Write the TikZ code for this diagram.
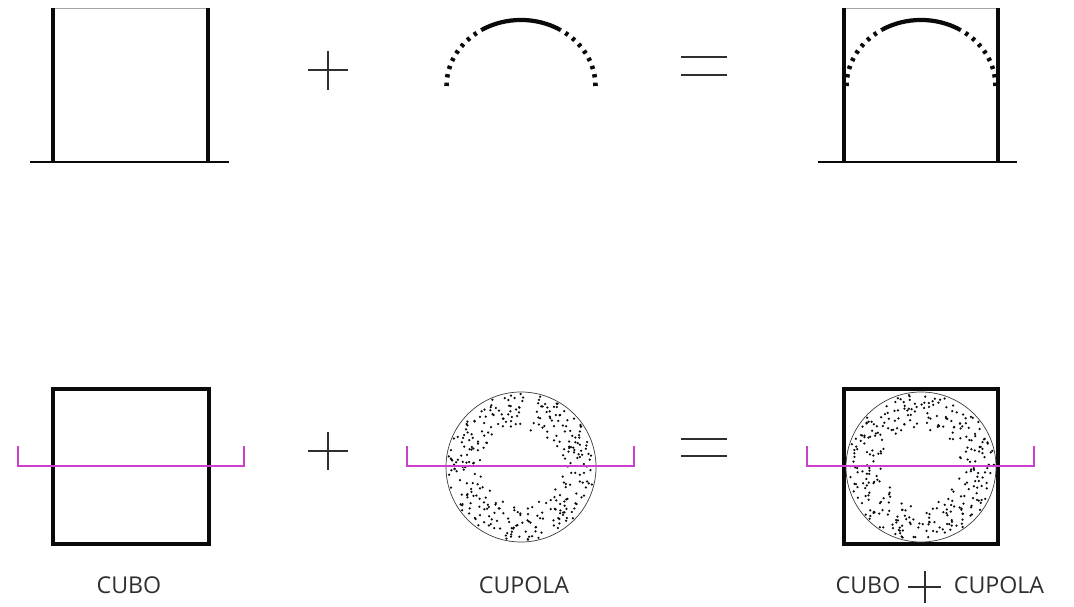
\documentclass[tikz,border=0pt]{standalone}
\usepackage{xcolor}
\usepackage{fontspec}
\setmainfont{Open Sans}
\usepackage{tikz}
\definecolor{cutpink}{HTML}{CC3FCC}
\definecolor{inkblack}{HTML}{0A0A0A}
\tikzset{
    wall/.style={inkblack, line width=2.3pt},
    ground/.style={inkblack, line width=1.2pt},
    thinedge/.style={gray!70, line width=0.5pt},
    signline/.style={inkblack!85, line width=0.7pt},
    cutline/.style={cutpink, line width=1.2pt},
    sphere/.style={inkblack!80, line width=0.4pt},
    brokenarc/.style={inkblack, line width=2.6pt, dash pattern=on 1.9pt off 3pt},
    solidarc/.style={inkblack, line width=2.4pt},
    caption/.style={inkblack!85, font=\fontsize{13.2pt}{15pt}\selectfont, inner sep=0pt},
}
% section of the dome: ends broken up, crown solid
\newcommand{\domearc}[1]{
    \draw[brokenarc] (#1-74.5,86) arc[start angle=180, end angle=238, x radius=74.5, y radius=66];
    \draw[solidarc] (#1-39.5,30) arc[start angle=238, end angle=302, x radius=74.5, y radius=66];
    \draw[brokenarc] (#1+74.5,86) arc[start angle=0, end angle=-58, x radius=74.5, y radius=66];
}
% stippled sphere, dots crowd towards the rim
\newcommand{\domeplan}[3]{
    \pgfmathsetseed{#3}
    \foreach \i in {1,...,320}{
        \pgfmathsetmacro{\ang}{360*frac(\i*0.381966)+#3+14*rand}
        \pgfmathsetmacro{\rad}{min(73,38+35*pow(\i/320,0.7)+2.5*rand)}
        \fill[inkblack] ({#1+\rad*cos(\ang)},{#2+\rad*sin(\ang)}) circle (1.25);
    }
    \draw[sphere] (#1,#2) circle (75);
}
\begin{document}
\begin{tikzpicture}[x=0.02cm, y=-0.02cm]
    \useasboundingbox (0,0) rectangle (1074,607);
    % top row
    \draw[thinedge] (53,8) -- (208,8);
    \draw[wall] (53,8) -- (53,162);
    \draw[wall] (208,8) -- (208,162);
    \draw[ground] (30,162) -- (229,162);
    \draw[signline] (308,70) -- (348,70);
    \draw[signline] (328,51) -- (328,90);
    \domearc{521}
    \draw[signline] (681,57) -- (727,57);
    \draw[signline] (681,75) -- (727,75);
    \draw[thinedge] (844,8) -- (998,8);
    \draw[wall] (844,8) -- (844,162);
    \draw[wall] (998,8) -- (998,162);
    \draw[ground] (818,162) -- (1017,162);
    \domearc{921}
    % bottom row
    \draw[wall] (53,389) rectangle (209,544);
    \draw[cutline] (18,446) -- (18,466) -- (244,466) -- (244,446);
    \draw[signline] (308,451) -- (348,451);
    \draw[signline] (328,432) -- (328,470);
    \domeplan{521}{467}{7}
    \draw[cutline] (407,446) -- (407,466) -- (634,466) -- (634,446);
    \draw[signline] (681,439) -- (727,439);
    \draw[signline] (681,456) -- (727,456);
    \draw[wall] (844,389) rectangle (998,544);
    \domeplan{921}{467}{23}
    \draw[cutline] (807,446) -- (807,466) -- (1034,466) -- (1034,446);
    % captions
    \node[caption] (cubo) at (129,585) {CUBO};
    \node[caption] (cupola) at (524,585) {CUPOLA};
    \node[caption] (cubosum) at (868,585) {CUBO};
    \node[caption] (cupolasum) at (999,585) {CUPOLA};
    \draw[signline] (908,587) -- (941,587);
    \draw[signline] (925,571) -- (925,603);
\end{tikzpicture}
\end{document}
